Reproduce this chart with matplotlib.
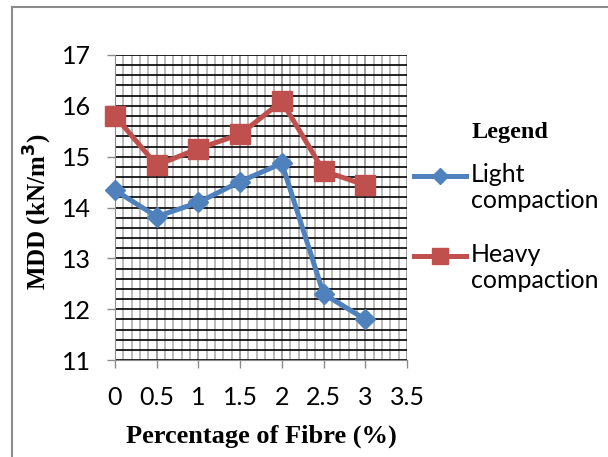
import matplotlib
matplotlib.use("Agg")
import matplotlib.pyplot as plt
from matplotlib.lines import Line2D
from matplotlib.ticker import MultipleLocator

# data
fibre = [0, 0.5, 1, 1.5, 2, 2.5, 3]
light = [14.34, 13.82, 14.10, 14.51, 14.87, 12.30, 11.80]
heavy = [15.80, 14.83, 15.16, 15.44, 16.09, 14.72, 14.44]
x_ticks = [0, 0.5, 1, 1.5, 2, 2.5, 3, 3.5]
y_ticks = [11, 12, 13, 14, 15, 16, 17]

blue = "#4F81BD"
red = "#C0504D"
tick_font = "Lato"
serif = "Liberation Serif"

W, H = 608, 457
fig = plt.figure(figsize=(W / 100, H / 100), dpi=100)
ax = fig.add_axes([115 / W, 1 - 360 / H, (407 - 115) / W, (360 - 55) / H])

# grid: grey verticals every 0.1, black horizontals every 0.2
ax.xaxis.set_minor_locator(MultipleLocator(0.1))
ax.yaxis.set_minor_locator(MultipleLocator(0.2))
ax.grid(which="minor", axis="x", color="#a8a8a8", lw=1.1)
ax.grid(which="major", axis="x", color="#858585", lw=1.1)
ax.grid(which="both", axis="y", color="black", lw=1.2)
ax.set_axisbelow(True)

ax.plot(fibre, light, color=blue, lw=3.6, marker="D", ms=10.5, zorder=3, clip_on=False)
ax.plot(fibre, heavy, color=red, lw=3.6, marker="s", ms=15, zorder=3, clip_on=False)

ax.set_xlim(0, 3.5)
ax.set_ylim(11, 17)
ax.set_xticks(x_ticks)
ax.set_xticklabels([f"{v:g}" for v in x_ticks])
ax.set_yticks(y_ticks)
ax.tick_params(which="minor", length=0)
ax.tick_params(which="major", length=6, width=1, color="#8c8c8c", pad=11)
ax.tick_params(axis="x", pad=13)
for lab in ax.get_xticklabels() + ax.get_yticklabels():
    lab.set_fontfamily(tick_font)
    lab.set_fontsize(18)

for side in ["top", "right"]:
    ax.spines[side].set_visible(False)
for side in ["left", "bottom"]:
    ax.spines[side].set_color("#8c8c8c")

fig.text(261 / W, 1 - 436 / H, "Percentage of Fibre (%)", family=serif,
         weight="bold", fontsize=19, ha="center", va="center")
fig.text(38 / W, 1 - 212 / H, "MDD (kN/m$^{\\mathbf{3}}$)", family=serif,
         weight="bold", fontsize=18, ha="center", va="center", rotation=90)

# legend drawn by hand, Excel style
fig.text(510 / W, 1 - 132 / H, "Legend", family=serif, weight="bold",
         fontsize=17.5, ha="center", va="center")
for yc, col, mk, ms, label in [(176, blue, "D", 10.5, "Light\ncompaction"),
                              (256, red, "s", 15, "Heavy\ncompaction")]:
    fy = 1 - yc / H
    fig.add_artist(Line2D([414 / W, 466 / W], [fy, fy], color=col, lw=3.6,
                          transform=fig.transFigure))
    fig.add_artist(Line2D([440 / W], [fy], color=col, marker=mk, ms=ms * 0.8,
                          transform=fig.transFigure))
    fig.text(471 / W, fy + 13 / H, label, family=tick_font, fontsize=18,
             ha="left", va="top", linespacing=1.15)

# outer chart border
fig.add_artist(Line2D([12 / W, 1], [1 - 7 / H, 1 - 7 / H], color="#8c8c8c", lw=1.5,
                      transform=fig.transFigure))
fig.add_artist(Line2D([12 / W, 12 / W], [0, 1 - 7 / H], color="#8c8c8c", lw=1.5,
                      transform=fig.transFigure))

fig.savefig("out.png", dpi=100)
